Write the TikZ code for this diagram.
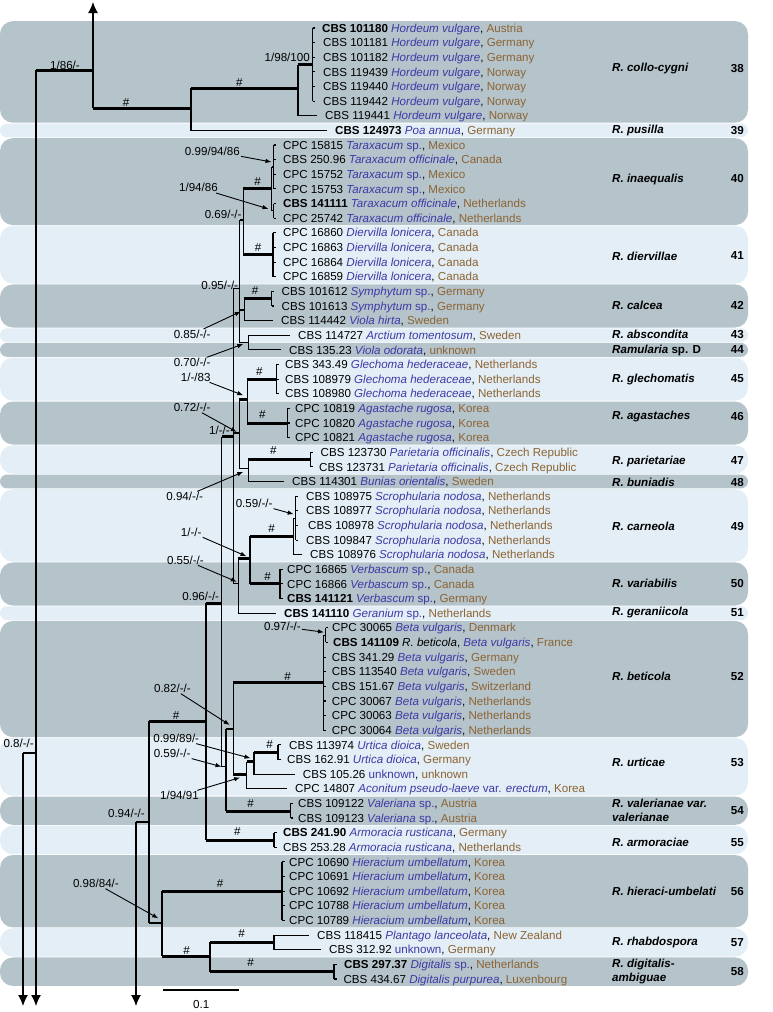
\documentclass[tikz,border=0pt]{standalone}
\usepackage{fontspec}
\setmainfont{Liberation Sans}
\usetikzlibrary{arrows.meta}

\definecolor{banddark}{RGB}{181,195,203}
\definecolor{bandlight}{RGB}{227,238,246}
\definecolor{hostblue}{RGB}{60,58,165}
\definecolor{landbrown}{RGB}{140,100,50}

\newcommand{\hst}[1]{\textcolor{hostblue}{\itshape #1}}
\newcommand{\hup}[1]{\textcolor{hostblue}{#1}}
\newcommand{\lnd}[1]{\textcolor{landbrown}{#1}}

\tikzset{
  >={Latex[length=6pt,width=4.5pt]},
  taxon/.style={anchor=west, inner sep=0pt, text height=8.3pt, text depth=0pt,
    font=\fontsize{11.6}{14}\selectfont},
  support/.style={anchor=east, inner sep=1pt, text height=8.3pt, text depth=0pt,
    font=\fontsize{11.6}{14}\selectfont},
  hashmark/.style={inner sep=0pt, text height=8.3pt, text depth=0pt,
    font=\fontsize{11.6}{14}\selectfont},
  species/.style={anchor=west, inner sep=0pt, align=left,
    font=\fontsize{11.6}{14.6}\selectfont\bfseries\itshape},
  cladeno/.style={anchor=east, inner sep=0pt, font=\fontsize{11.6}{14}\selectfont\bfseries},
  branch/.style={line width=1.1pt},
  longbranch/.style={line width=3pt},
  pointer/.style={->, line width=0.9pt},
  rootarrow/.style={-{Latex[length=11pt,width=10pt]}, line width=1.3pt}
}

% vertical from #2, then horizontal (styled #1) to #3
\newcommand{\brn}[3][]{%
  \draw[branch] (#2) -- (#2 |- #3);
  \draw[branch,#1] (#2 |- #3) -- (#3);}
% single tip line to a taxon
\newcommand{\leaf}[2]{\draw[branch] (#1) |- ([xshift=-8pt]t#2.west);}
% comb of zero-length tips
\newcommand{\comb}[3]{%
  \draw[branch] (#1 |- t#2.west) -- (#1 |- t#3.west);
  \foreach \k in {#2,...,#3} \draw[branch] (#1 |- t\k.west) -- ++(2.5,0);}

\begin{document}
\begin{tikzpicture}[x=1pt,y=-1pt]
  \useasboundingbox (0,0) rectangle (773,1012);

  % clade bands
  \foreach \bandtop/\bandbot/\bandcol in {20.7/123.1/banddark, 123.1/137.7/bandlight,
      137.7/225.5/banddark, 225.5/284.0/bandlight, 284.0/327.9/banddark,
      327.9/342.5/bandlight, 342.5/357.2/banddark, 357.2/401.1/bandlight,
      401.1/444.9/banddark, 444.9/474.2/bandlight, 474.2/488.8/banddark,
      488.8/562.0/bandlight, 562.0/605.9/banddark, 605.9/620.5/bandlight,
      620.5/737.5/banddark, 737.5/796.1/bandlight, 796.1/825.3/banddark,
      825.3/854.6/bandlight, 854.6/927.8/banddark, 927.8/957.0/bandlight,
      957.0/986.3/banddark} {
    \pgfmathsetmacro\rr{min(13,(\bandbot-\bandtop)/2-0.4)}
    \fill[\bandcol, rounded corners=\rr pt] (0,\bandtop+0.4) rectangle (748,\bandbot-0.4);
  }

  % taxa
  \foreach \r/\x/\txt in {
    0/322/{\textbf{CBS 101180} \hst{Hordeum vulgare}, \lnd{Austria}},
    1/323/{CBS 101181 \hst{Hordeum vulgare}, \lnd{Germany}},
    2/323/{CBS 101182 \hst{Hordeum vulgare}, \lnd{Germany}},
    3/323/{CBS 119439 \hst{Hordeum vulgare}, \lnd{Norway}},
    4/323/{CBS 119440 \hst{Hordeum vulgare}, \lnd{Norway}},
    5/323/{CBS 119442 \hst{Hordeum vulgare}, \lnd{Norway}},
    6/325/{CBS 119441 \hst{Hordeum vulgare}, \lnd{Norway}},
    7/335/{\textbf{CBS 124973} \hst{Poa annua}, \lnd{Germany}},
    8/283/{CPC 15815 \hst{Taraxacum} \hup{sp.}, \lnd{Mexico}},
    9/283/{CBS 250.96 \hst{Taraxacum officinale}, \lnd{Canada}},
    10/283/{CPC 15752 \hst{Taraxacum} \hup{sp.}, \lnd{Mexico}},
    11/283/{CPC 15753 \hst{Taraxacum} \hup{sp.}, \lnd{Mexico}},
    12/283/{\textbf{CBS 141111} \hst{Taraxacum officinale}, \lnd{Netherlands}},
    13/283/{CPC 25742 \hst{Taraxacum officinale}, \lnd{Netherlands}},
    14/283/{CPC 16860 \hst{Diervilla lonicera}, \lnd{Canada}},
    15/283/{CPC 16863 \hst{Diervilla lonicera}, \lnd{Canada}},
    16/283/{CPC 16864 \hst{Diervilla lonicera}, \lnd{Canada}},
    17/283/{CPC 16859 \hst{Diervilla lonicera}, \lnd{Canada}},
    18/281.5/{CBS 101612 \hst{Symphytum} \hup{sp.}, \lnd{Germany}},
    19/281.5/{CBS 101613 \hst{Symphytum} \hup{sp.}, \lnd{Germany}},
    20/281/{CBS 114442 \hst{Viola hirta}, \lnd{Sweden}},
    21/298/{CBS 114727 \hst{Arctium tomentosum}, \lnd{Sweden}},
    22/289/{CBS 135.23 \hst{Viola odorata}, \lnd{unknown}},
    23/285/{CBS 343.49 \hst{Glechoma hederaceae}, \lnd{Netherlands}},
    24/285/{CBS 108979 \hst{Glechoma hederaceae}, \lnd{Netherlands}},
    25/285/{CBS 108980 \hst{Glechoma hederaceae}, \lnd{Netherlands}},
    26/295/{CPC 10819 \hst{Agastache rugosa}, \lnd{Korea}},
    27/295/{CPC 10820 \hst{Agastache rugosa}, \lnd{Korea}},
    28/295/{CPC 10821 \hst{Agastache rugosa}, \lnd{Korea}},
    29/320.5/{CBS 123730 \hst{Parietaria officinalis}, \lnd{Czech Republic}},
    30/319/{CBS 123731 \hst{Parietaria officinalis}, \lnd{Czech Republic}},
    31/292/{CBS 114301 \hst{Bunias orientalis}, \lnd{Sweden}},
    32/306/{CBS 108975 \hst{Scrophularia nodosa}, \lnd{Netherlands}},
    33/306/{CBS 108977 \hst{Scrophularia nodosa}, \lnd{Netherlands}},
    34/308/{CBS 108978 \hst{Scrophularia nodosa}, \lnd{Netherlands}},
    35/306/{CBS 109847 \hst{Scrophularia nodosa}, \lnd{Netherlands}},
    36/310/{CBS 108976 \hst{Scrophularia nodosa}, \lnd{Netherlands}},
    37/287/{CPC 16865 \hst{Verbascum} \hup{sp.}, \lnd{Canada}},
    38/287/{CPC 16866 \hst{Verbascum} \hup{sp.}, \lnd{Canada}},
    39/287/{\textbf{CBS 141121} \hst{Verbascum} \hup{sp.}, \lnd{Germany}},
    40/284/{\textbf{CBS 141110} \hst{Geranium} \hup{sp.}, \lnd{Netherlands}},
    41/332/{CPC 30065 \hst{Beta vulgaris}, \lnd{Denmark}},
    42/333/{\textbf{CBS 141109} \textit{R. beticola}, \hst{Beta vulgaris}, \lnd{France}},
    43/331.7/{CBS 341.29 \hst{Beta vulgaris}, \lnd{Germany}},
    44/331.7/{CBS 113540 \hst{Beta vulgaris}, \lnd{Sweden}},
    45/331.7/{CBS 151.67 \hst{Beta vulgaris}, \lnd{Switzerland}},
    46/331.7/{CPC 30067 \hst{Beta vulgaris}, \lnd{Netherlands}},
    47/331.7/{CPC 30063 \hst{Beta vulgaris}, \lnd{Netherlands}},
    48/331.7/{CPC 30064 \hst{Beta vulgaris}, \lnd{Netherlands}},
    49/289/{CBS 113974 \hst{Urtica dioica}, \lnd{Sweden}},
    50/287/{CBS 162.91 \hst{Urtica dioica}, \lnd{Germany}},
    51/302.7/{CBS 105.26 \hup{unknown}, \lnd{unknown}},
    52/295/{CPC 14807 \hst{Aconitum pseudo-laeve} \hup{var.} \hst{erectum}, \lnd{Korea}},
    53/298/{CBS 109122 \hst{Valeriana} \hup{sp.}, \lnd{Austria}},
    54/298/{CBS 109123 \hst{Valeriana} \hup{sp.}, \lnd{Austria}},
    55/283/{\textbf{CBS 241.90} \hst{Armoracia rusticana}, \lnd{Germany}},
    56/283/{CBS 253.28 \hst{Armoracia rusticana}, \lnd{Netherlands}},
    57/289/{CPC 10690 \hst{Hieracium umbellatum}, \lnd{Korea}},
    58/289/{CPC 10691 \hst{Hieracium umbellatum}, \lnd{Korea}},
    59/289/{CPC 10692 \hst{Hieracium umbellatum}, \lnd{Korea}},
    60/289/{CPC 10788 \hst{Hieracium umbellatum}, \lnd{Korea}},
    61/289/{CPC 10789 \hst{Hieracium umbellatum}, \lnd{Korea}},
    62/317/{CBS 118415 \hst{Plantago lanceolata}, \lnd{New Zealand}},
    63/329/{CBS 312.92 \hup{unknown}, \lnd{Germany}},
    64/344/{\textbf{CBS 297.37} \hst{Digitalis} \hup{sp.}, \lnd{Netherlands}},
    65/343.3/{CBS 434.67 \hst{Digitalis purpurea}, \lnd{Luxenbourg}}} {
    \pgfmathsetmacro\yy{28+14.63*\r}
    \node[taxon] (t\r) at (\x,\yy) {\txt};
  }

  % species names and numbers
  \foreach \n/\y/\txt in {38/68.3/{R. collo-cygni}, 39/130.4/{R. pusilla},
      40/179/{R. inaequalis}, 41/256/{R. diervillae}, 42/305.3/{R. calcea},
      43/334.8/{R. abscondita}, 44/350/{Ramularia {\upshape sp. D}},
      45/379/{R. glechomatis}, 46/416.7/{R. agastaches}, 47/461/{R. parietariae},
      48/482/{R. buniadis}, 49/526.7/{R. carneola}, 50/583.3/{R. variabilis},
      51/612.9/{R. geraniicola}, 52/676/{R. beticola}, 53/762.3/{R. urticae},
      54/810.4/{R. valerianae var.\\valerianae}, 55/842.6/{R. armoraciae},
      56/891/{R. hieraci-umbelati}, 57/942.6/{R. rhabdospora},
      58/971.6/{R. digitalis-\\ambiguae}} {
    \node[species] (sp\n) at (612,\y) {\txt};
    \node[cladeno] (no\n) at (744,\y) {\n};
  }

  % tree nodes
  \coordinate (rootA) at (36,70);
  \coordinate (nA) at (93,108);
  \coordinate (upEnd) at (93,2);
  \coordinate (downEnd) at (0,1006);
  \coordinate (n08) at (23,753);
  \coordinate (n094) at (136,822);
  \coordinate (nB) at (191,108);
  \coordinate (nC) at (298,88);
  \coordinate (nD) at (312.7,64.6);
  \coordinate (nF) at (149,822);
  \coordinate (nG) at (206,721);
  \coordinate (nH) at (162,923);
  \coordinate (nI) at (221.7,603);
  \coordinate (nArm) at (274,840);
  \coordinate (nHie) at (282,891.2);
  \coordinate (nJ) at (210,956);
  \coordinate (nRha) at (274,942.4);
  \coordinate (nDig) at (334,971.6);
  \coordinate (nK) at (233.3,436.7);
  \coordinate (nL) at (226,766.7);
  \coordinate (nM) at (239.8,288.3);
  \coordinate (nN) at (239.3,433);
  \coordinate (nO) at (238.3,583.3);
  \coordinate (nP) at (243.3,220);
  \coordinate (nCal) at (244.3,310);
  \coordinate (nAbs) at (248.3,342.5);
  \coordinate (nTar) at (271.5,188.3);
  \coordinate (nDie) at (273,254.7);
  \coordinate (nTa1) at (273.5,167);
  \coordinate (nTa2) at (273.5,210.9);
  \coordinate (nCal2) at (271.7,298.7);
  \coordinate (nQ) at (247.3,399.3);
  \coordinate (nR) at (248.3,468.3);
  \coordinate (nGle) at (276.7,379.1);
  \coordinate (nAga) at (287.3,423);
  \coordinate (nPar) at (310.7,459.6);
  \coordinate (nS) at (250,558.3);
  \coordinate (nCar) at (293.3,536.4);
  \coordinate (nVer) at (280,583.9);
  \coordinate (nCar2) at (295.7,518.2);
  \coordinate (nT) at (233.3,729);
  \coordinate (nVal) at (290.7,811);
  \coordinate (nBet) at (323.3,682.6);
  \coordinate (nBet2) at (325.5,635.2);
  \coordinate (nU) at (246.7,774);
  \coordinate (nW) at (254,761.7);
  \coordinate (nUrt) at (278,752.2);

  % root and arrows
  \draw[rootarrow] (nA) -- (upEnd);
  \draw[longbranch] (rootA) -- (rootA -| nA);
  \draw[rootarrow] (rootA) -- (rootA |- downEnd);
  \draw[branch] (n08) -- (n08 -| rootA);
  \draw[rootarrow] (n08) -- (n08 |- downEnd);
  \draw[branch] (n094) -- (nF);
  \draw[rootarrow] (n094) -- (n094 |- downEnd);

  % branches
  \brn[longbranch]{nA}{nB}
  \brn[longbranch]{nB}{nC}
  \leaf{nB}{7}
  \brn[longbranch]{nC}{nD}
  \leaf{nC}{6}
  \comb{nD}{0}{5}
  \brn[longbranch]{nF}{nG}
  \brn{nF}{nH}
  \brn[longbranch]{nG}{nI}
  \brn[longbranch]{nG}{nArm}
  \comb{nArm}{55}{56}
  \brn[longbranch]{nH}{nHie}
  \comb{nHie}{57}{61}
  \brn[longbranch]{nH}{nJ}
  \brn[longbranch]{nJ}{nRha}
  \leaf{nRha}{62}
  \leaf{nRha}{63}
  \brn[longbranch]{nJ}{nDig}
  \comb{nDig}{64}{65}
  \brn[longbranch]{nI}{nK}
  \brn{nI}{nL}
  \brn{nK}{nM}
  \brn{nK}{nN}
  \brn{nK}{nO}
  \brn{nM}{nP}
  \brn{nM}{nCal}
  \brn{nM}{nAbs}
  \brn[longbranch]{nP}{nTar}
  \brn[longbranch]{nP}{nDie}
  \brn{nTar}{nTa1}
  \brn{nTar}{nTa2}
  \comb{nTa1}{8}{11}
  \comb{nTa2}{12}{13}
  \comb{nDie}{14}{17}
  \brn[longbranch]{nCal}{nCal2}
  \comb{nCal2}{18}{19}
  \leaf{nCal}{20}
  \leaf{nAbs}{21}
  \leaf{nAbs}{22}
  \brn[longbranch]{nN}{nQ}
  \brn{nN}{nR}
  \brn[longbranch]{nQ}{nGle}
  \brn[longbranch]{nQ}{nAga}
  \comb{nGle}{23}{25}
  \comb{nAga}{26}{28}
  \brn[longbranch]{nR}{nPar}
  \comb{nPar}{29}{30}
  \leaf{nR}{31}
  \brn[longbranch]{nO}{nS}
  \leaf{nO}{40}
  \brn[longbranch]{nS}{nCar}
  \brn[longbranch]{nS}{nVer}
  \brn{nCar}{nCar2}
  \comb{nCar2}{32}{35}
  \leaf{nCar}{36}
  \comb{nVer}{37}{39}
  \brn{nL}{nT}
  \brn[longbranch]{nL}{nVal}
  \comb{nVal}{53}{54}
  \brn[longbranch]{nT}{nBet}
  \brn{nBet}{nBet2}
  \comb{nBet2}{41}{42}
  \comb{nBet}{43}{48}
  \brn[longbranch]{nT}{nU}
  \brn[longbranch]{nU}{nW}
  \leaf{nU}{52}
  \brn[longbranch]{nW}{nUrt}
  \leaf{nW}{51}
  \comb{nUrt}{49}{50}

  % hash marks on long branches
  \foreach \x/\y [count=\i] in {126/102.7, 239.3/82.7, 257.7/181, 258/247,
      255/290, 259.3/371.7, 262.3/414, 273.3/450, 271.7/528.3, 267.5/576,
      287.5/676.7, 269.5/744, 250.7/803.3, 237.3/831.7, 176/715, 220/883.3,
      186.7/950, 241.7/933.3, 250.7/962}
    \node[hashmark] (h\i) at (\x,\y) {\#};

  % support values
  \node[support] (s1) at (241,151) {0.99/94/86};
  \draw[pointer] (s1) -- ([shift={(-2,-5)}]nTa1);
  \node[support] (s2) at (219,187.7) {1/94/86};
  \draw[pointer] (s2) -- ([shift={(-5,-2)}]nTa2);
  \node[support] (s3) at (242.7,214) {0.69/-/-};
  \node[support] (s4) at (239.3,285) {0.95/-/-};
  \node[support] (s5) at (211.7,334.3) {0.85/-/-};
  \draw[pointer] (s5) -- ([shift={(-3.5,1.5)}]nCal);
  \node[support] (s6) at (211.7,362.7) {0.70/-/-};
  \draw[pointer] (s6) -- ([shift={(-5,1.5)}]nAbs);
  \node[support] (s7) at (211.7,377) {1/-/83};
  \draw[pointer] (s7) -- ([shift={(-4,-4)}]nQ);
  \node[support] (s8) at (211.7,407.3) {0.72/-/-};
  \draw[pointer] (s8) -- ([shift={(-2.5,-1)}]nN);
  \node[support] (s9) at (231,430) {1/-/-};
  \node[support] (s10) at (204.3,496.7) {0.94/-/-};
  \draw[pointer] (s10) -- ([shift={(-5,3.5)}]nR);
  \node[support] (s11) at (273.7,503.3) {0.59/-/-};
  \draw[pointer] (s11) -- ([shift={(-2,-4)}]nCar2);
  \node[support] (s12) at (202.7,532.3) {1/-/-};
  \draw[pointer] (s12) -- ([shift={(-3.5,-2)}]nS);
  \node[support] (s13) at (205,560) {0.55/-/-};
  \draw[pointer] (s13) -- ([shift={(-1.5,-1.5)}]nO);
  \node[support] (s14) at (220.3,596.7) {0.96/-/-};
  \node[support] (s15) at (302,626.7) {0.97/-/-};
  \draw[pointer] (s15) -- ([shift={(-1.5,-3)}]nBet2);
  \node[support] (s16) at (192,688.3) {0.82/-/-};
  \draw[pointer] (s16) -- ([shift={(-3.5,-4)}]nT);
  \node[support] (s17) at (200.3,738.3) {0.99/89/-};
  \draw[pointer] (s17) -- ([shift={(-3.5,-3.5)}]nW);
  \node[support] (s18) at (191.7,753.3) {0.59/-/-};
  \draw[pointer] (s18) -- ([shift={(-4.5,0)}]nL);
  \node[support] (s19) at (200,795.7) {1/94/91};
  \draw[pointer] (s19) -- ([shift={(-6.5,3.5)}]nU);
  \node[support] (s20) at (146,813) {0.94/-/-};
  \node[support] (s21) at (120,883.3) {0.98/84/-};
  \draw[pointer] (s21) -- ([shift={(-3.7,-4.7)}]nH);
  \node[support] (s22) at (35,743) {0.8/-/-};
  \node[support] (s23) at (81,65) {1/86/-};
  \node[support] (s24) at (311,57.3) {1/98/100};

  % scale bar
  \coordinate (sbL) at (163.3,990);
  \coordinate (sbR) at (239,990);
  \draw[branch] (sbL) -- (sbR) node[taxon, anchor=center, midway, yshift=-14.3pt] (sblab) {0.1};
\end{tikzpicture}
\end{document}
